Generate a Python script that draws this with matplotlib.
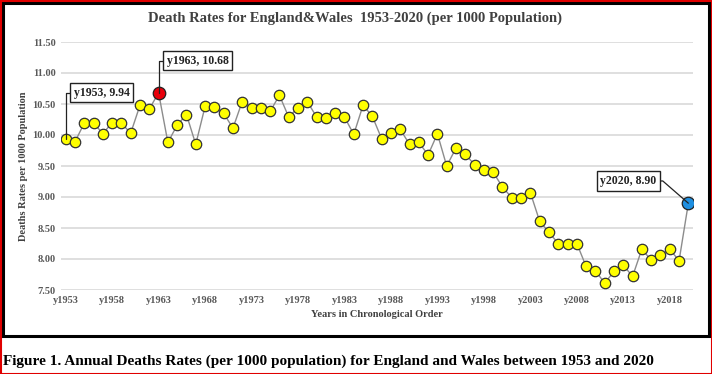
import numpy as np
import matplotlib.pyplot as plt
from matplotlib.patches import Rectangle

# --- DATA ---
years = list(range(1953, 2021))
rates = [9.94, 9.89, 10.19, 10.20, 10.02, 10.20, 10.19, 10.03, 10.48, 10.42,
         10.68, 9.88, 10.16, 10.33, 9.85, 10.46, 10.45, 10.35, 10.11, 10.54,
         10.44, 10.44, 10.38, 10.64, 10.29, 10.44, 10.54, 10.29, 10.27, 10.36,
         10.29, 10.01, 10.48, 10.30, 9.94, 10.04, 10.09, 9.85, 9.88, 9.68,
         10.02, 9.50, 9.79, 9.69, 9.52, 9.44, 9.40, 9.16, 8.99, 8.98,
         9.07, 8.61, 8.43, 8.25, 8.25, 8.25, 7.88, 7.81, 7.61, 7.80,
         7.90, 7.72, 8.16, 7.98, 8.06, 8.16, 7.97, 8.90]
labels = ['y%d' % y for y in years]
y_ticks = [7.5, 8.0, 8.5, 9.0, 9.5, 10.0, 10.5, 11.0, 11.5]
highlights = {1963: '#e8000b', 2020: '#1f8fe0'}

serif = 'Liberation Serif'
grey = '#404040'

fig = plt.figure(figsize=(7.12, 3.74), dpi=100)
ax = fig.add_axes([61 / 712, 1 - 290 / 374, 632 / 712, 248 / 374])

x = np.arange(len(years))
ax.plot(x, rates, color='#8c8c8c', lw=1.0, zorder=2)
ax.plot(x, rates, 'o', ms=7.5, mfc='#ffff00', mec='#333333', mew=0.9, zorder=3)

# highlighted points
for yr, col in highlights.items():
    i = years.index(yr)
    ax.plot(x[i], rates[i], 'o', ms=9, mfc=col, mec='#222222', mew=0.9, zorder=4)

ax.set_xlim(-0.5, len(years) - 0.5)
ax.set_ylim(7.5, 11.5)
ax.set_yticks(y_ticks)
ax.set_yticklabels(['%.2f' % v for v in y_ticks])
ax.set_xticks(x[::5])
ax.set_xticklabels(labels[::5])
ax.grid(axis='y', color='#d9d9d9', lw=1.2)
ax.set_axisbelow(True)
for s in ax.spines.values():
    s.set_visible(False)
ax.tick_params(length=0, labelsize=7.5, labelcolor='#595959', pad=4)
for t in ax.get_xticklabels() + ax.get_yticklabels():
    t.set_family(serif)
    t.set_fontweight('bold')

fig.text(355 / 712, 1 - 18 / 374,
         'Death Rates for England&Wales  1953-2020 (per 1000 Population)',
         family=serif, fontweight='bold', fontsize=10.5, color=grey,
         ha='center', va='center')
ax.set_ylabel('Deaths Rates per 1000 Population', family=serif, fontweight='bold',
              fontsize=7.5, color=grey, labelpad=3)
ax.set_xlabel('Years in Chronological Order', family=serif, fontweight='bold',
              fontsize=7.5, color=grey, labelpad=4)

# data callouts
box = dict(boxstyle='square,pad=0.3', fc='white', ec='#222222', lw=1.0)
def callout(yr, dx, dy, angleB, ha):
    i = years.index(yr)
    ax.annotate('y%d, %.2f' % (yr, rates[i]), xy=(x[i], rates[i]),
                xytext=(dx, dy), textcoords='offset points', ha=ha, va='center',
                family=serif, fontweight='bold', fontsize=8.5, color='#222222',
                bbox=box, zorder=5,
                arrowprops=dict(arrowstyle='-', color='#222222', lw=0.9,
                                shrinkA=0, shrinkB=0,
                                connectionstyle='angle,angleA=0,angleB=%d,rad=0' % angleB))

callout(1953, 6, 33, 90, 'left')
callout(1963, 6, 23, 90, 'left')
callout(2020, -23, 16, 139, 'right')

# outer frames
fig.patches.append(Rectangle((3 / 712, 1 - 336 / 374), 706 / 712, 333 / 374,
                             transform=fig.transFigure, fill=False, ec='black', lw=2.2))
fig.patches.append(Rectangle((0.5 / 712, 0.5 / 374), 711 / 712, 373 / 374,
                             transform=fig.transFigure, fill=False, ec='#e00000', lw=1.5))

fig.text(3 / 712, 1 - 361 / 374,
         'Figure 1. Annual Deaths Rates (per 1000 population) for England and Wales between 1953 and 2020',
         family=serif, fontweight='bold', fontsize=11, color='black', va='center', ha='left')

fig.savefig('out.png', dpi=100)
